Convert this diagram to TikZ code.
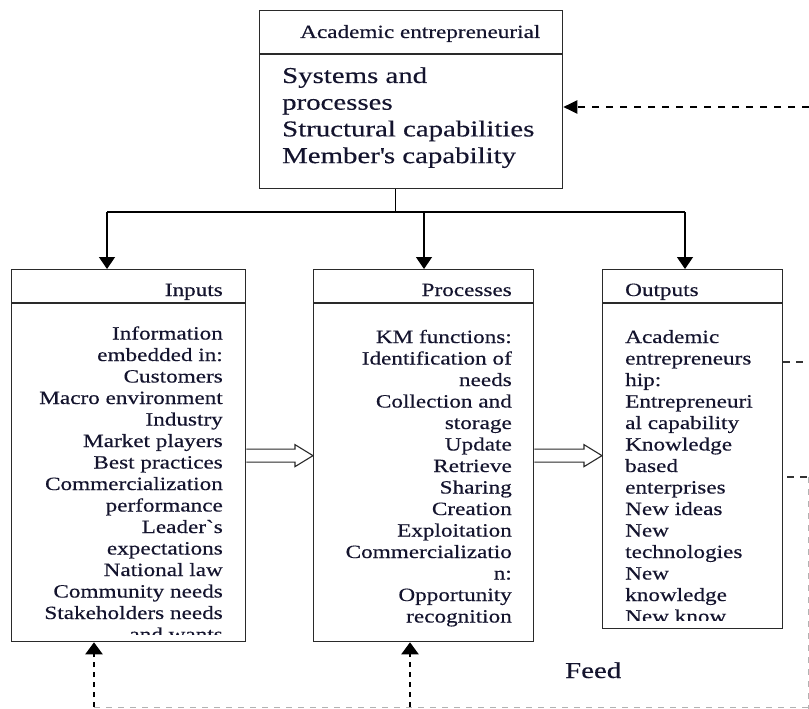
\documentclass[tikz,border=0pt]{standalone}
\usepackage{fontspec}
\newfontfamily\rf[FakeStretch=1.24,FakeBold=0.35]{Liberation Serif}
\newfontfamily\rfl[FakeStretch=1.27,FakeBold=0.35]{Liberation Serif}
\usetikzlibrary{arrows.meta,calc}
\definecolor{ink}{HTML}{14142E}
\definecolor{edge}{HTML}{2A2A2A}
\newcommand{\RL}[1]{\vtop{\halign{\hfil##\cr#1\crcr}}}
\newcommand{\LL}[1]{\vtop{\halign{##\hfil\cr#1\crcr}}}
\newcommand{\fatarrow}[2]{\draw[edge,line width=1.1pt,fill=white,line join=miter]
  ($(#1)+(0,-6.5)$) -- ($(#2)+(-18,-6.5)$) -- ($(#2)+(-18,-11)$) -- (#2) --
  ($(#2)+(-18,11)$) -- ($(#2)+(-18,6.5)$) -- ($(#1)+(0,6.5)$);}
\begin{document}
\begin{tikzpicture}[x=1pt,y=-1pt,
  box/.style={draw=edge,line width=1.3pt,rectangle,inner sep=0pt,anchor=north west},
  hdr/.style={draw=edge,line width=1.3pt},
  txs/.style={font=\rf\fontsize{18.7}{21.5}\selectfont,text=ink,inner sep=0pt},
  txl/.style={font=\rfl\fontsize{22.7}{26.7}\selectfont,text=ink,inner sep=0pt},
  conn/.style={draw=black,line width=1.4pt},
  solidarr/.style={conn,-{Triangle[width=16pt,length=12pt]}},
  fbarr/.style={draw=black,line width=2.2pt,dash pattern=on 5pt off 5pt,-{Triangle[width=17pt,length=12pt]}},
  topfb/.style={draw=black,line width=2pt,dash pattern=on 7pt off 7pt,-{Triangle[width=13pt,length=14pt]}},
  thindash/.style={draw=black!80,line width=1.2pt,dash pattern=on 7pt off 6pt},
  greydash/.style={draw=black!30,line width=1pt,dash pattern=on 6pt off 6pt}
]
\useasboundingbox (0,0) rectangle (809,709);
\fill[white] (0,0) rectangle (809,709);

% boxes
\node[box,minimum width=303pt,minimum height=178pt] (top) at (259,10) {};
\node[box,minimum width=234pt,minimum height=372pt] (in) at (11,269) {};
\node[box,minimum width=220pt,minimum height=372pt] (pr) at (313,269) {};
\node[box,minimum width=180pt,minimum height=359pt] (out) at (602,269) {};

% header lines
\draw[hdr] ([yshift=-44pt]top.north west) -- ([yshift=-44pt]top.north east);
\draw[hdr] ([yshift=-34pt]in.north west) -- ([yshift=-34pt]in.north east);
\draw[hdr] ([yshift=-34pt]pr.north west) -- ([yshift=-34pt]pr.north east);
\draw[hdr] ([yshift=-34pt]out.north west) -- ([yshift=-34pt]out.north east);

% headers
\node[txs,anchor=base west] (toph) at (300,38) {Academic entrepreneurial};
\node[txs,anchor=base east] (inh) at (223,296) {Inputs};
\node[txs,anchor=base east] (prh) at (512,296) {Processes};
\node[txs,anchor=base west] (outh) at (625,296) {Outputs};

% body texts
\node[txl,anchor=base west] (topb) at (282,83) {\LL{Systems and\cr processes\cr Structural capabilities\cr Member\textquotesingle s capability}};

\begin{scope}
\clip (11,303) rectangle (245,634);
\node[txs,anchor=base east] (inb) at (223,339.5) {\RL{Information\cr embedded in:\cr Customers\cr Macro environment\cr Industry\cr Market players\cr Best practices\cr Commercialization\cr performance\cr Leader`s\cr expectations\cr National law\cr Community needs\cr Stakeholders needs\cr and wants}};
\end{scope}

\node[txs,anchor=base east] (prb) at (512,343) {\RL{KM functions:\cr Identification of\cr needs\cr Collection and\cr storage\cr Update\cr Retrieve\cr Sharing\cr Creation\cr Exploitation\cr Commercializatio\cr n:\cr Opportunity\cr recognition}};

\begin{scope}
\clip (602,303) rectangle (782,620);
\node[txs,anchor=base west] (outb) at (625,343) {\LL{Academic\cr entrepreneurs\cr hip:\cr Entrepreneuri\cr al capability\cr Knowledge\cr based\cr enterprises\cr New ideas\cr New\cr technologies\cr New\cr knowledge\cr New know}};
\end{scope}

% tree connectors
\coordinate (j) at (395.5,212);
\coordinate (bl) at (107,212);
\coordinate (bm) at (424,212);
\coordinate (br) at (685,212);
\draw[conn] (j |- top.south) -- (j);
\draw[conn] (bl) -- (br);
\draw[solidarr] (bl) -- (bl |- in.north);
\draw[solidarr] (bm) -- (bm |- pr.north);
\draw[solidarr] (br) -- (br |- out.north);

% fat arrows
\coordinate (oin) at (pr.east -| out.west);
\fatarrow{in.east}{pr.west}
\fatarrow{pr.east}{oin}

% feedback
\coordinate (fr1) at (809,107);
\draw[topfb] (fr1) -- (fr1 -| top.east);
\coordinate (fr2) at (809,362);
\draw[thindash] (out.east |- fr2) -- (fr2);
\coordinate (c1) at (787,477);
\coordinate (c2) at (808,477);
\coordinate (c3) at (808,709);
\draw[thindash] (c1) -- (c2);
\draw[greydash] (c2) -- (c3);
\coordinate (b1) at (94,707);
\coordinate (b2) at (410,707);
\coordinate (b3) at (808,707);
\draw[greydash] (b1) -- (b3);
\draw[fbarr] (b1) -- (b1 |- in.south);
\draw[fbarr] (b2) -- (b2 |- pr.south);

\node[txl,anchor=base west] (feed) at (565,678) {Feed};
\end{tikzpicture}
\end{document}
